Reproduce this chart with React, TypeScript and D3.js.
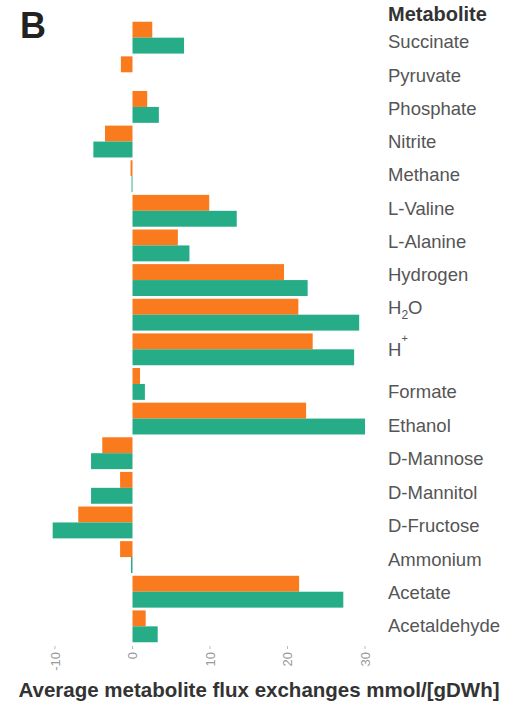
import React from "react";
import * as d3 from "d3";

const metabolites = [
  "Succinate", "Pyruvate", "Phosphate", "Nitrite", "Methane", "L-Valine",
  "L-Alanine", "Hydrogen", "H2O", "H+", "Formate", "Ethanol", "D-Mannose",
  "D-Mannitol", "D-Fructose", "Ammonium", "Acetate", "Acetaldehyde",
];
const seriesOrange = [
  2.55, -1.5, 1.9, -3.55, -0.25, 9.9, 5.85, 19.55, 21.4, 23.25, 0.97, 22.4,
  -3.9, -1.6, -7.0, -1.6, 21.5, 1.7,
];
const seriesGreen = [
  6.65, 0, 3.4, -5.05, -0.12, 13.45, 7.35, 22.6, 29.25, 28.6, 1.6, 30.0,
  -5.35, -5.35, -10.3, -0.2, 27.2, 3.25,
];
const seriesNames = ["orange", "green"];
const xTicks = [-10, 0, 10, 20, 30];
const panelLetter = "B";
const legendTitle = "Metabolite";
const xTitle = "Average metabolite flux exchanges mmol/[gDWh]";

const COLORS: Record<string, string> = { orange: "#FA7A1E", green: "#26AD88" };
const W = 513;
const H = 701;

export default function App() {
  const x = d3.scaleLinear().domain([0, 30]).range([132.5, 365]);
  const y = d3
    .scaleBand<string>()
    .domain(metabolites)
    .range([20, 644])
    .paddingInner(0.08)
    .paddingOuter(0.05);
  const ys = d3.scaleBand<string>().domain(seriesNames).range([0, y.bandwidth()]);
  const labelY = d3
    .scaleLinear()
    .domain([0, 8, 10, 17])
    .range([42, 308, 392, 626]);

  const bars: { key: string; name: string; s: string; v: number }[] = [];
  metabolites.forEach((m, i) => {
    bars.push({ key: m + "o", name: m, s: "orange", v: seriesOrange[i] });
    bars.push({ key: m + "g", name: m, s: "green", v: seriesGreen[i] });
  });

  const labelFont = "Liberation Sans, Arial, sans-serif";

  const renderLabel = (m: string) => {
    if (m === "H2O") {
      return (
        <>
          H<tspan fontSize={12} dy={5}>2</tspan>
          <tspan dy={-5}>O</tspan>
        </>
      );
    }
    if (m === "H+") {
      return (
        <>
          <tspan dy={6}>H</tspan>
          <tspan fontSize={11} dy={-14}>+</tspan>
        </>
      );
    }
    return m;
  };

  return (
    <div style={{ position: "absolute", left: 0, top: 0 }}>
      <svg width={W} height={H} style={{ display: "block", background: "#fff" }}>
        <text
          x={20}
          y={38}
          fontFamily={labelFont}
          fontWeight="bold"
          fontSize={36}
          fill="#222"
        >
          {panelLetter}
        </text>

        {bars.map((b) => (
          <rect
            key={b.key}
            x={Math.min(x(0), x(b.v))}
            y={(y(b.name) as number) + (ys(b.s) as number)}
            width={Math.abs(x(b.v) - x(0))}
            height={ys.bandwidth()}
            fill={COLORS[b.s]}
          />
        ))}

        {xTicks.map((t) => (
          <g key={t} transform={`translate(${x(t)},0)`}>
            <line y1={646} y2={649} stroke="#bbb" strokeWidth={1} />
            <text
              transform="translate(0,652) rotate(-90)"
              textAnchor="end"
              dy="0.35em"
              dx={0}
              fontFamily={labelFont}
              fontSize={13}
              fill="#9a9a9a"
            >
              {t}
            </text>
          </g>
        ))}

        <text
          x={388}
          y={21}
          fontFamily={labelFont}
          fontWeight="bold"
          fontSize={20}
          fill="#333"
        >
          {legendTitle}
        </text>
        {metabolites.map((m, i) => (
          <text
            key={m}
            x={388}
            y={labelY(i)}
            dy="0.35em"
            fontFamily={labelFont}
            fontSize={18.5}
            fill="#555"
          >
            {renderLabel(m)}
          </text>
        ))}

        <text
          x={259}
          y={697}
          textAnchor="middle"
          fontFamily={labelFont}
          fontWeight="bold"
          fontSize={20.5}
          fill="#333"
        >
          {xTitle}
        </text>
      </svg>
    </div>
  );
}
